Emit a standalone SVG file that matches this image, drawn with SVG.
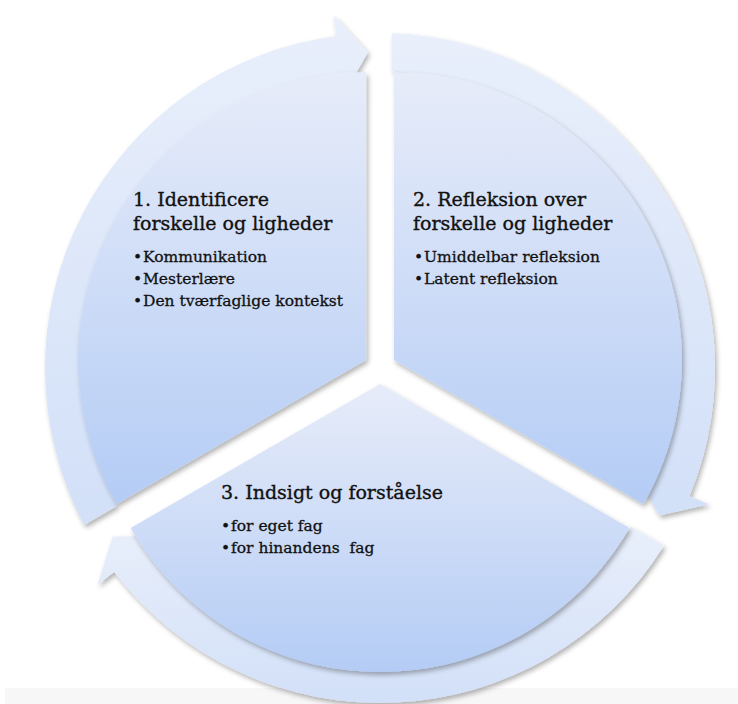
<svg xmlns="http://www.w3.org/2000/svg" width="738" height="704" viewBox="0 0 738 704">
  <style>
    .title { font-family: "DejaVu Serif", "Liberation Serif", serif; font-size: 19px; fill: #111; stroke: #111; stroke-width: 0.35px; }
    .item { font-family: "DejaVu Serif", "Liberation Serif", serif; font-size: 15.5px; fill: #111; stroke: #111; stroke-width: 0.3px; }
    .sector { fill: url(#gSec); filter: url(#shadow); }
    .arrow { fill: url(#gArr); filter: url(#shadow); }
  </style>
  <defs>
    <linearGradient id="gSec" x1="0" y1="0" x2="0" y2="1">
      <stop offset="0" stop-color="#e7ecf9"/>
      <stop offset="1" stop-color="#b4ccf5"/>
    </linearGradient>
    <linearGradient id="gArr" x1="0" y1="0" x2="0" y2="1">
      <stop offset="0" stop-color="#e9effb"/>
      <stop offset="1" stop-color="#d2e0f8"/>
    </linearGradient>
    <filter id="shadow" x="-10%" y="-10%" width="120%" height="120%">
      <feDropShadow dx="2" dy="3" stdDeviation="2.5" flood-color="#000" flood-opacity="0.3"/>
    </filter>
  </defs>

  <rect x="5" y="688" width="733" height="16" fill="#f7f7f7"/>

  <g id="connectors">
    <path id="arrow1" class="arrow" d="M84.1,525 A335,335 0 0 1 336.3,35.9 L333.5,15.1 L367.9,52.2 L344,94.4 L341.2,73.6 A297,297 0 0 0 117,506 Z"/>
    <path id="arrow2" class="arrow" d="M392,33.2 A335,335 0 0 1 689.5,496.2 L708.9,504.2 L659.5,515.4 L635,473.6 L654.4,481.7 A297,297 0 0 0 392,71.2 Z"/>
    <path id="arrow3" class="arrow" d="M663.9,545.8 A335,335 0 0 1 114.2,571.9 L97.6,584.7 L112.6,536.4 L161,536 L144.4,548.8 A297,297 0 0 0 631,526.8 Z"/>
  </g>

  <g id="node1">
    <path class="sector" d="M366.1,360 L116.7,504 A288,288 0 0 1 366.1,72 Z"/>
    <text class="title" x="133" y="206">1. Identificere</text>
    <text class="title" x="133" y="230">forskelle og ligheder</text>
    <text class="item" y="262"><tspan x="133">•</tspan><tspan x="143">Kommunikation</tspan></text>
    <text class="item" y="284"><tspan x="133">•</tspan><tspan x="143">Mesterlære</tspan></text>
    <text class="item" y="306"><tspan x="133">•</tspan><tspan x="143">Den tværfaglige kontekst</tspan></text>
  </g>

  <g id="node2">
    <path class="sector" d="M393.9,360 L393.9,72 A288,288 0 0 1 643.3,504 Z"/>
    <text class="title" x="413" y="206">2. Refleksion over</text>
    <text class="title" x="413" y="230">forskelle og ligheder</text>
    <text class="item" y="262"><tspan x="414">•</tspan><tspan x="424">Umiddelbar refleksion</tspan></text>
    <text class="item" y="284"><tspan x="414">•</tspan><tspan x="424">Latent refleksion</tspan></text>
  </g>

  <g id="node3">
    <path class="sector" d="M380,384 L629.4,528 A288,288 0 0 1 130.6,528 Z"/>
    <text class="title" x="221" y="499">3. Indsigt og forståelse</text>
    <text class="item" y="531"><tspan x="221">•</tspan><tspan x="231">for eget fag</tspan></text>
    <text class="item" y="553" xml:space="preserve" style="white-space:pre"><tspan x="221">•</tspan><tspan x="231">for hinandens  fag</tspan></text>
  </g>
</svg>
